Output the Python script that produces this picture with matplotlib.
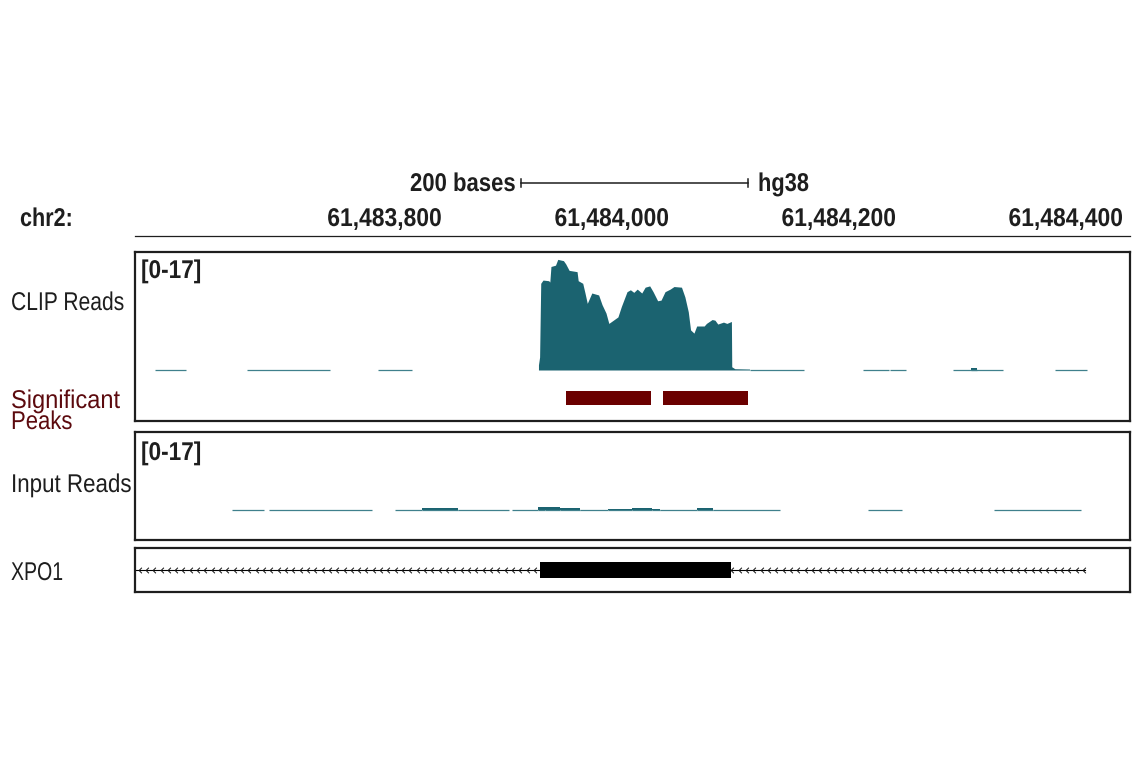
import numpy as np
import matplotlib
matplotlib.use("Agg")
import matplotlib.pyplot as plt
import matplotlib.patheffects as pe
from matplotlib.path import Path
from matplotlib.transforms import Affine2D

W, H = 1141, 768
TSS = 61484000
X0, X1 = TSS - 470.5, TSS + 406.2
PX_PER_COUNT = 6.47

# genome ticks
tick_pos = [61483800, 61484000, 61484200, 61484400]
tick_labels = ["61,483,800", "61,484,000", "61,484,200", "61,484,400"]
scale_start, scale_end = 61483870, 61484070

# CLIP coverage, offset from 61,484,000 (bases) and read count
clip_pos = [-115, -114, -113, -111, -106, -105, -104, -100, -98, -93, -91, -88, -81, -80, -76,
            -74, -72, -68, -62, -59, -55.5, -53, -49, -45, -42, -37, -34, -31, -28, -24, -21,
            -17, -14, -10, -7, -3.5, 1, 4.4, 11, 14, 17, 19, 22, 24.4, 31, 33, 38, 40.5, 43,
            48, 51, 55, 55.3, 58, 71]
clip_val = [0.8, 2.0, 13.4, 13.9, 13.8, 13.6, 16.0, 16.2, 17.1, 16.9, 16.4, 15.4, 15.2, 13.8, 13.4,
            11.9, 10.3, 11.9, 11.6, 10.1, 8.8, 7.2, 7.7, 8.2, 9.8, 12.1, 12.4, 12.0, 12.5, 11.9, 12.8,
            13.0, 12.1, 10.7, 10.8, 12.1, 12.5, 12.9, 12.8, 11.3, 9.0, 6.2, 5.7, 6.8, 6.8, 7.2, 7.8, 7.7, 7.1,
            7.4, 7.2, 7.5, 0.5, 0.2, 0.15]

# single read stretches
clip_start = [-453, -372, -256, 71, 171, 195, 250, 266, 340]
clip_end = [-426, -299, -226, 119, 194, 209, 294, 271, 368]
clip_height = [0.1, 0.1, 0.1, 0.1, 0.1, 0.1, 0.1, 0.3, 0.1]

peak_start = [-91, -5.3]
peak_end = [-16, 69.6]

# input track
input_start = [-385, -352, -241, -218, -186, -138, -115, -109, -96, -78, -54, -33, -15, -8, 25, 39, 175, 286]
input_end = [-357, -262, -218, -186, -141, -115, -109, -96, -78, -54, -33, -15, -8, 25, 39, 98, 205, 363]
input_val = [0.1, 0.1, 0.1, 0.25, 0.1, 0.1, 0.5, 0.4, 0.25, 0.1, 0.15, 0.3, 0.2, 0.1, 0.25, 0.1, 0.1, 0.1]

# gene model
gene_start, gene_end = -470.5, 366.5
exon_start, exon_end = -113.7, 55

DARK = "#1e1e1e"
TEAL = "#1b6370"
THIN = "#3f808c"
MAROON = "#6b0000"
FONT = "Liberation Sans"


class Condensed(pe.AbstractPathEffect):
    # squeeze the glyphs sideways, no narrow font is installed
    def __init__(self, sx, anchor="left"):
        super().__init__()
        self.sx = sx
        self.anchor = anchor

    def draw_path(self, renderer, gc, tpath, affine, rgbFace=None):
        x = tpath.vertices[:, 0]
        fix = x.min() if self.anchor == "left" else x.max()
        squeeze = Affine2D().translate(-fix, 0).scale(self.sx, 1).translate(fix, 0)
        renderer.draw_path(gc, tpath, squeeze + affine, rgbFace)


def panel(top, bottom, left=135, right=1130):
    return plt.gcf().add_axes([left / W, 1 - bottom / H, (right - left) / W, (bottom - top) / H])


def track(top, bottom, base):
    ax = panel(top, bottom)
    ax.set_xlim(X0, X1)
    ax.set_ylim(-(bottom - base) / PX_PER_COUNT, (base - top) / PX_PER_COUNT)
    ax.set_xticks([])
    ax.set_yticks([])
    for s in ax.spines.values():
        s.set_linewidth(1.6)
        s.set_color(DARK)
    return ax


def draw_reads(ax, starts, ends, heights):
    for a, b, v in zip(starts, ends, heights):
        ax.plot([TSS + a, TSS + b], [0, 0], color=THIN, lw=0.9, solid_capstyle="butt")
        if v > 0.1:
            ax.fill_between([TSS + a, TSS + b], 0, v, color=TEAL, lw=0)


fig = plt.figure(figsize=(W / 100, H / 100), dpi=100, facecolor="white")


def label(px, py, s, sx, color=DARK, size=18.5, weight="normal"):
    t = fig.text(px / W, 1 - py / H, s, color=color, fontsize=size, fontweight=weight,
                 family=FONT, ha="left", va="center")
    t.set_path_effects([Condensed(sx)])


# header with scale bar and coordinates
head = panel(160, 236)
head.set_xlim(X0, X1)
head.set_ylim(236, 160)
head.set_xticks([])
head.set_yticks([])
for side in ["top", "left", "right"]:
    head.spines[side].set_visible(False)
head.spines["bottom"].set_linewidth(0.9)
head.spines["bottom"].set_color(DARK)
for p, t in zip(tick_pos, tick_labels):
    lab = head.text(p, 219, t, ha="right", va="center", fontsize=18.5, fontweight="bold",
                    family=FONT, color=DARK)
    lab.set_path_effects([Condensed(0.89, "right")])
head.plot([scale_start, scale_end], [183, 183], color=DARK, lw=1.1)
head.plot([scale_start, scale_start], [179, 187], color=DARK, lw=1.1)
head.plot([scale_end, scale_end], [179, 187], color=DARK, lw=1.1)
label(410, 184, "200 bases", 0.86, weight="bold")
label(758, 184, "hg38", 0.85, weight="bold")
label(20, 219, "chr2:", 0.84, weight="bold")

# CLIP + peaks
clip = track(252, 421, 370)
clip.fill_between(TSS + np.array(clip_pos), 0, clip_val, color=TEAL, lw=0)
draw_reads(clip, clip_start, clip_end, clip_height)
for a, b in zip(peak_start, peak_end):
    clip.fill_between([TSS + a, TSS + b], -5.4, -3.25, color=MAROON, lw=0)
label(141, 271, "[0-17]", 0.88, weight="bold")

# input
inp = track(432, 540, 510)
draw_reads(inp, input_start, input_end, input_val)
label(141, 453, "[0-17]", 0.88, weight="bold")

# gene model
gene = track(548, 592, 570)
gene.set_ylim(-1, 1)
gene.plot([TSS + gene_start, TSS + gene_end], [0, 0], color="black", lw=0.8)
chevron = Path([(0.5, 1), (-0.5, 0), (0.5, -1)], [Path.MOVETO, Path.LINETO, Path.LINETO])
arrow_x = np.arange(TSS + gene_start + 4, TSS + gene_end, 6.45)
arrow_x = arrow_x[(arrow_x < TSS + exon_start) | (arrow_x > TSS + exon_end)]
gene.plot(arrow_x, np.zeros(len(arrow_x)), ls="", marker=chevron, ms=4, mfc="none", mec="#111111", mew=0.7)
gene.fill_between([TSS + exon_start, TSS + exon_end], -0.36, 0.36, color="black", lw=0)

# track names
label(11, 303, "CLIP Reads", 0.82, size=18.5)
label(11, 401, "Significant", 0.92, color="#5c0a0e", size=18.5)
label(11, 422, "Peaks", 0.86, color="#5c0a0e", size=18.5)
label(11, 485, "Input Reads", 0.87, size=18.5)
label(11, 573, "XPO1", 0.76, size=18.5)

fig.savefig("out.png", dpi=100)
